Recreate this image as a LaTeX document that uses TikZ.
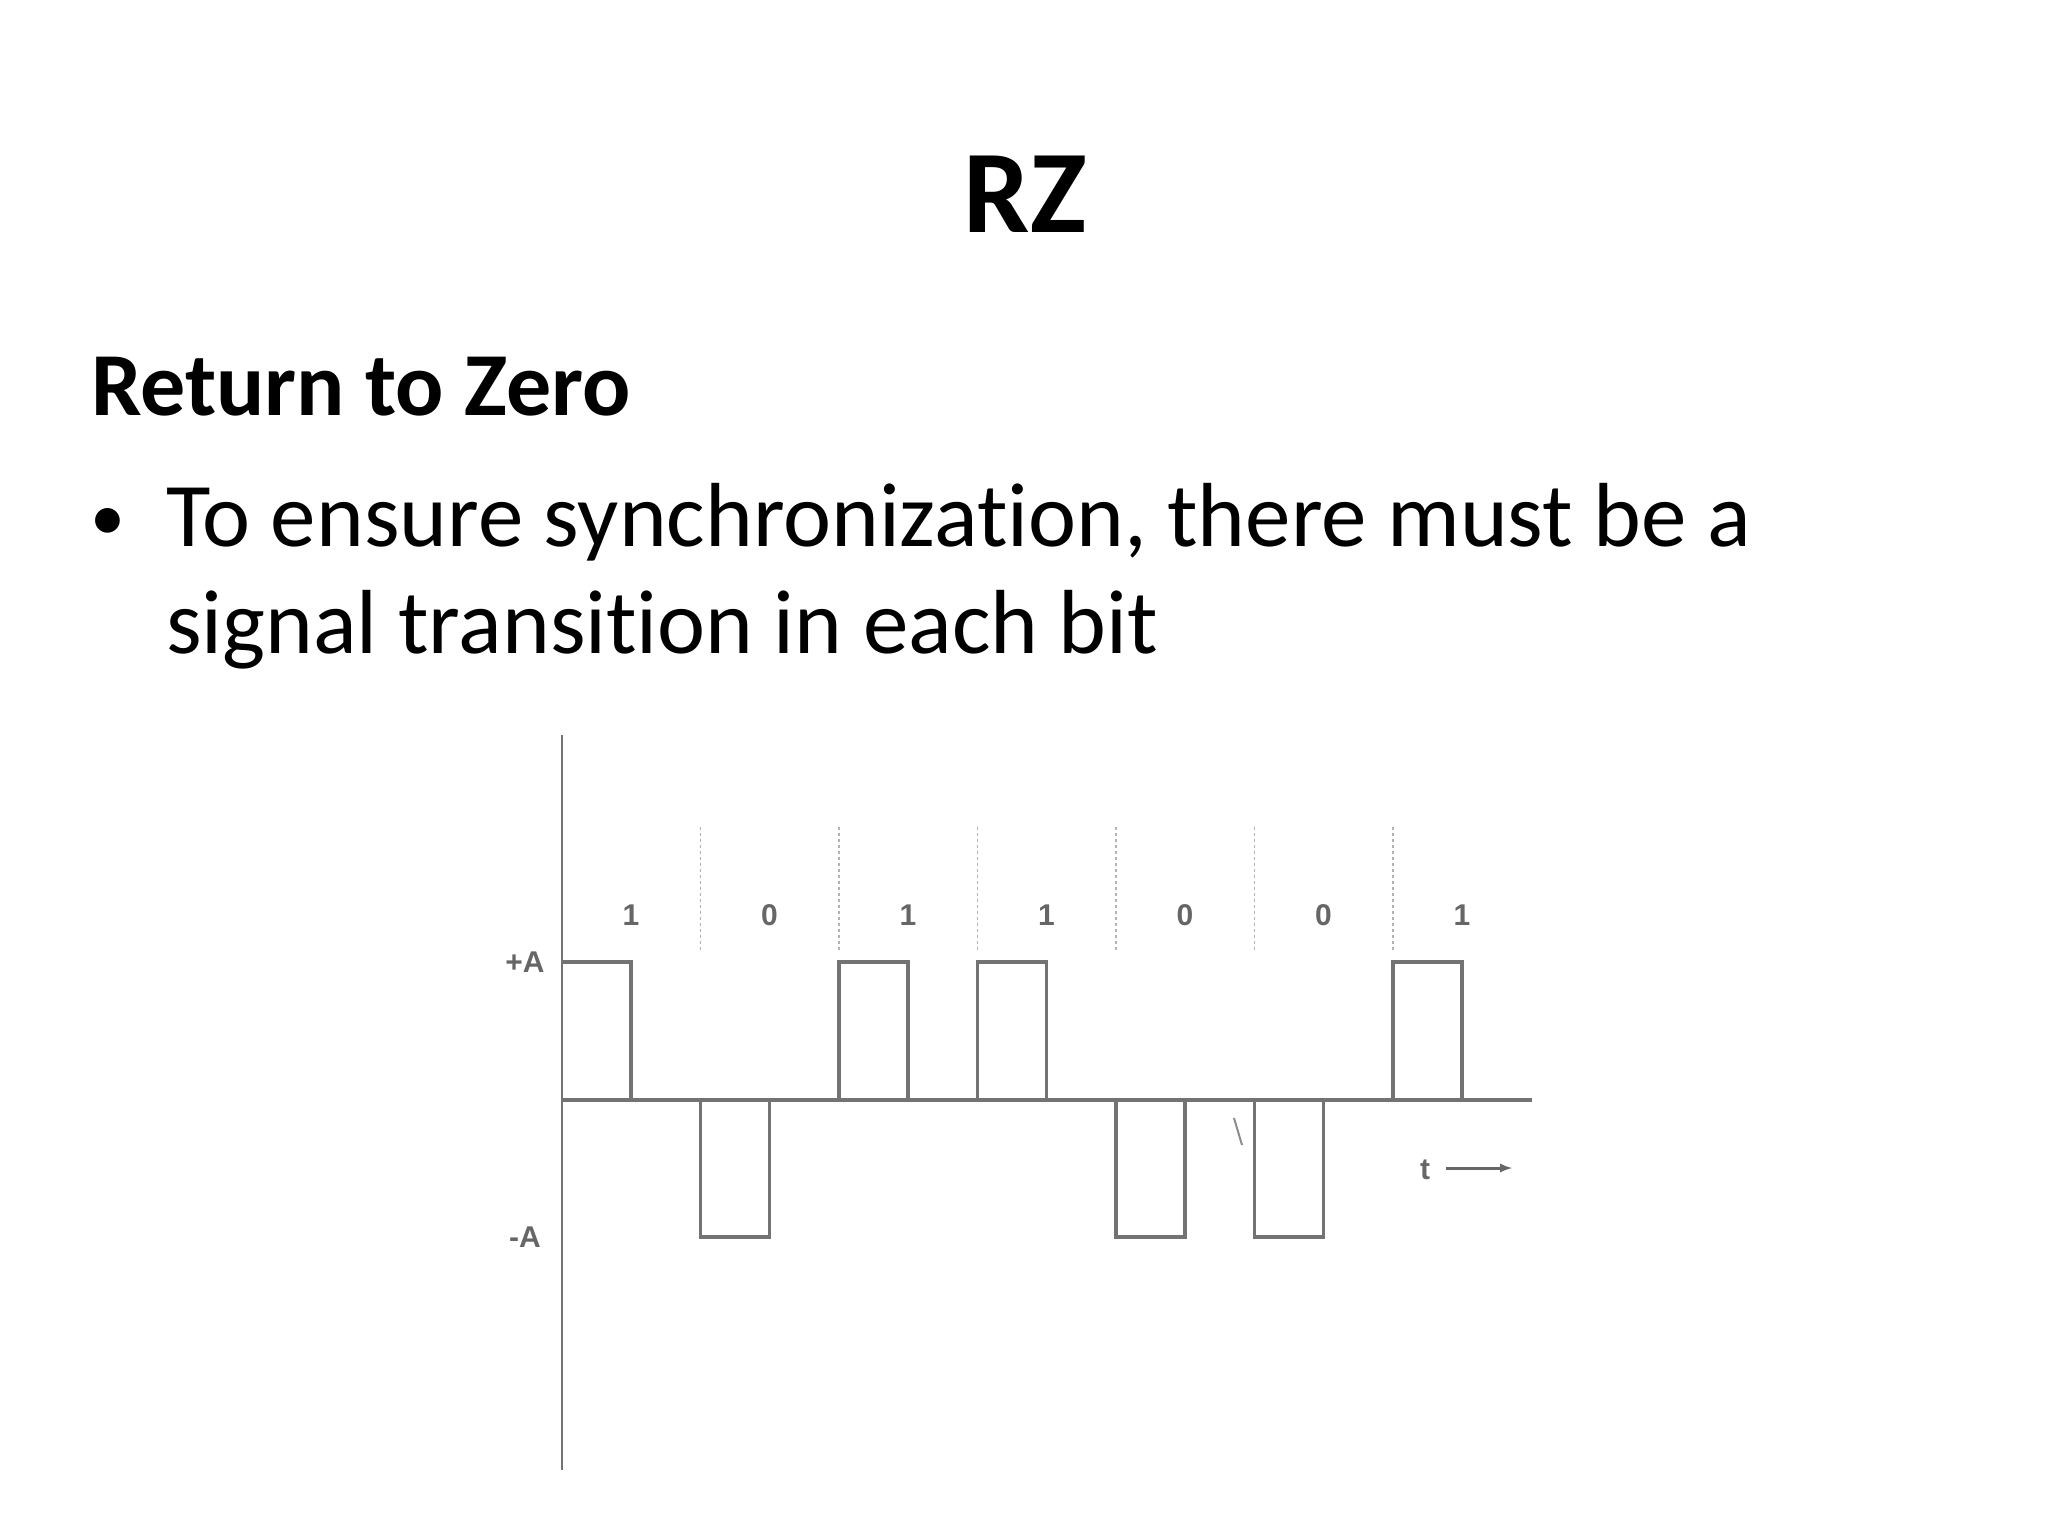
\documentclass[tikz,border=0pt]{standalone}
\usepackage{fontspec}
\setmainfont[Ligatures={NoCommon}]{Carlito}
\newfontfamily\lblfont{Liberation Sans}
\begin{document}
\begin{tikzpicture}[x=1pt,y=-1pt,
  sig/.style={draw=black!55,line width=3.5pt},
  grid/.style={draw=black!30,dashed,line width=1.2pt},
  lbl/.style={font=\lblfont\bfseries\fontsize{30}{32}\selectfont,text=black!60,inner sep=0}]
\useasboundingbox (0,0) rectangle (2048,1536);
\node[anchor=base,font=\bfseries\fontsize{118}{120}\selectfont] (title) at (1025,232) {RZ};
\node[anchor=base west,inner sep=0,font=\bfseries\fontsize{90}{92}\selectfont] (sub) at (91,415) {Return to Zero};
\node[anchor=base west,inner sep=0,font=\fontsize{70}{72}\selectfont] (b) at (90,540) {•};
\node[anchor=base west,inner sep=0,font=\fontsize{91}{92}\selectfont] (l1) at (166,546) {To ensure synchronization, there must be a};
\node[anchor=base west,inner sep=0,font=\fontsize{91}{92}\selectfont] (l2) at (166,653) {signal transition in each bit};
% axes
\coordinate (at) at (562,735); \coordinate (ab) at (562,1470);
\draw[draw=black!55,line width=2.5pt] (at) -- (ab);
\coordinate (z0) at (562,1100); \coordinate (z1) at (1532,1100);
\draw[draw=black!55,line width=3.5pt] (z0) -- (z1);
% dashed separators
\foreach \k in {1,...,6}{
  \coordinate (dt\k) at ({562+138.5*\k},827);
  \coordinate (db\k) at ({562+138.5*\k},952);
  \draw[grid] (dt\k) -- (db\k);}
% labels
\foreach \k/\v in {0/1,1/0,2/1,3/1,4/0,5/0,6/1}
  \node[lbl] (b\k) at ({562+138.5*\k+69},915) {\v};
\node[lbl] (pa) at (525,962) {+A};
\node[lbl] (ma) at (525,1237) {-A};
% signal
\draw[sig] (562,962) -- (631,962) -- (631,1100);
\draw[sig] (700.5,1100) -- (700.5,1237) -- (769.5,1237) -- (769.5,1100);
\draw[sig] (839,1100) -- (839,962) -- (908,962) -- (908,1100);
\draw[sig] (977.5,1100) -- (977.5,962) -- (1046.5,962) -- (1046.5,1100);
\draw[sig] (1116,1100) -- (1116,1237) -- (1185,1237) -- (1185,1100);
\draw[sig] (1254.5,1100) -- (1254.5,1237) -- (1323.5,1237) -- (1323.5,1100);
\draw[sig] (1393,1100) -- (1393,962) -- (1462,962) -- (1462,1100);
\coordinate (s1) at (1234,1118); \coordinate (s2) at (1242,1145);
\draw[draw=black!45,line width=2pt] (s1) -- (s2);
% t arrow
\node[lbl] (t) at (1425,1170) {t};
\coordinate (ta) at (1446,1168); \coordinate (tb) at (1512,1168);
\draw[draw=black!60,line width=3pt,-latex] (ta) -- (tb);
\end{tikzpicture}
\end{document}
